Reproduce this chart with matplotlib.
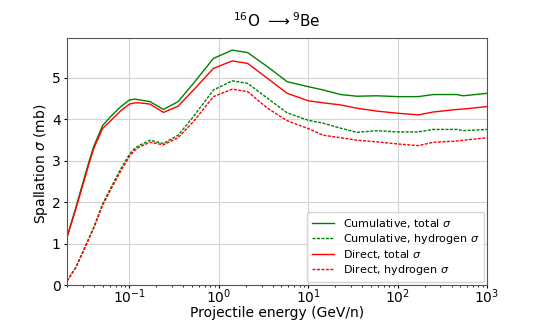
import matplotlib
matplotlib.use('Agg')
import matplotlib.pyplot as plt

# Energies (GeV/n) and cross sections (mb)
energy = [0.02, 0.025, 0.03, 0.035, 0.04, 0.05, 0.061, 0.08, 0.1, 0.115, 0.13, 0.17, 0.24, 0.35,
          0.52, 0.87, 1.41, 2.1, 3.5, 5.8, 10, 14.7, 23, 35, 59, 100, 170, 250, 460, 540, 1000]

cum_total = [1.15, 1.85, 2.45, 2.95, 3.35, 3.84, 4.05, 4.3, 4.46, 4.48, 4.46, 4.42, 4.23, 4.42,
             4.86, 5.46, 5.66, 5.6, 5.26, 4.9, 4.78, 4.70, 4.59, 4.55, 4.56, 4.54, 4.54, 4.59, 4.59, 4.56, 4.62]
cum_hydrogen = [0.1, 0.42, 0.8, 1.12, 1.4, 1.95, 2.32, 2.8, 3.15, 3.3, 3.37, 3.49, 3.41, 3.61,
                4.06, 4.70, 4.92, 4.86, 4.50, 4.15, 3.97, 3.90, 3.78, 3.68, 3.72, 3.69, 3.69, 3.75, 3.75, 3.72, 3.75]
dir_total = [1.15, 1.82, 2.4, 2.9, 3.3, 3.77, 3.95, 4.2, 4.36, 4.39, 4.39, 4.36, 4.16, 4.31,
             4.70, 5.22, 5.40, 5.34, 4.98, 4.62, 4.44, 4.39, 4.34, 4.26, 4.19, 4.14, 4.10, 4.17, 4.23, 4.24, 4.30]
dir_hydrogen = [0.1, 0.41, 0.78, 1.1, 1.38, 1.92, 2.28, 2.75, 3.1, 3.25, 3.33, 3.44, 3.38, 3.55,
                3.94, 4.54, 4.72, 4.66, 4.26, 3.96, 3.77, 3.61, 3.55, 3.49, 3.45, 3.40, 3.36, 3.44, 3.47, 3.49, 3.55]

fig, ax = plt.subplots(figsize=(5.4, 3.2), dpi=100)

short_dash = (0, (2.2, 1.0))
ax.plot(energy, cum_total, color='green', lw=1, label='Cumulative, total $\\sigma$')
ax.plot(energy, cum_hydrogen, color='green', lw=1, ls=short_dash, label='Cumulative, hydrogen $\\sigma$')
ax.plot(energy, dir_total, color='red', lw=1, label='Direct, total $\\sigma$')
ax.plot(energy, dir_hydrogen, color='red', lw=1, ls=short_dash, label='Direct, hydrogen $\\sigma$')

ax.set_xscale('log')
ax.set_xlim(0.02, 1000)
ax.set_ylim(0, 5.95)
ax.set_xlabel('Projectile energy (GeV/n)', fontsize=10)
ax.set_ylabel('Spallation $\\sigma$ (mb)', fontsize=10)
ax.xaxis.set_label_coords(0.5, -0.086)
ax.yaxis.set_label_coords(-0.04, 0.49)
ax.set_title('$^{16}$O $\\longrightarrow$$^{9}$Be', fontsize=11, pad=8)
ax.tick_params(labelsize=10, length=2)
ax.tick_params(axis='x', pad=0)
ax.tick_params(axis='y', pad=2.5)
ax.tick_params(which='minor', length=1.2)
for sp in ax.spines.values():
    sp.set_color('#555555')
ax.grid(True, color='lightgray')
ax.legend(loc='lower right', fontsize=8, labelspacing=0.2, borderaxespad=0.3)

fig.subplots_adjust(left=0.124, right=0.902, top=0.881, bottom=0.109)
fig.savefig('out.png')
